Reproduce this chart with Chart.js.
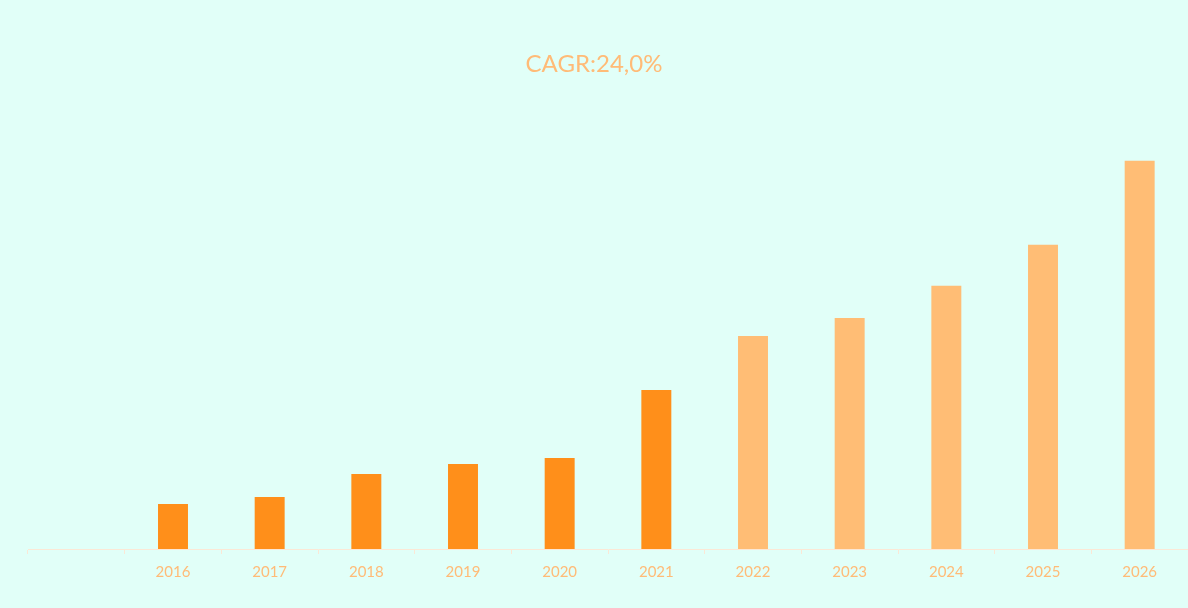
<!DOCTYPE html>
<html>
<head>
<meta charset="utf-8">
<script src="https://cdn.jsdelivr.net/npm/chart.js@4/dist/chart.umd.min.js"></script>
<style>
  html, body { margin: 0; padding: 0; background: #e1fff8; }
  #wrap { width: 1188px; height: 608px; position: relative; }
</style>
</head>
<body>
<div id="wrap"><canvas id="c" width="1188" height="608"></canvas></div>
<script>
const categories = ['', '2016', '2017', '2018', '2019', '2020', '2021', '2022', '2023', '2024', '2025', '2026'];
const historicalValues = [null, 45, 52, 75, 85, 91, 159, null, null, null, null, null];
const forecastValues = [null, null, null, null, null, null, null, 213, 231, 263, 304, 388];
const titleText = 'CAGR:24,0%';

const textColor = '#ffbb77';
const axisColor = '#fbe8d6';

new Chart(document.getElementById('c'), {
  type: 'bar',
  data: {
    labels: categories,
    datasets: [
      { label: 'Historical', data: historicalValues, backgroundColor: '#ff8f1a', barPercentage: 0.31, categoryPercentage: 1 },
      { label: 'Forecast', data: forecastValues, backgroundColor: '#ffbd75', barPercentage: 0.31, categoryPercentage: 1 }
    ]
  },
  options: {
    responsive: false,
    animation: false,
    layout: { padding: { left: 0, right: 0, top: 0, bottom: 18 } },
    plugins: {
      legend: { display: false },
      tooltip: { enabled: false },
      title: {
        display: true,
        text: titleText,
        color: textColor,
        font: { family: 'Lato, "Open Sans", sans-serif', size: 24, weight: 'normal' },
        padding: { top: 50, bottom: 70 }
      }
    },
    scales: {
      x: {
        stacked: true,
        offset: true,
        grid: { display: true, offset: true, drawOnChartArea: false, drawTicks: true, tickLength: 5, color: axisColor },
        border: { display: true, color: axisColor, width: 1 },
        ticks: { color: textColor, padding: 9, font: { family: 'Lato, "Open Sans", sans-serif', size: 15 } }
      },
      y: {
        stacked: true,
        display: true,
        min: 0,
        max: 400,
        grid: { display: false, drawTicks: false },
        border: { display: false },
        ticks: { display: false },
        afterFit: (scale) => { scale.width = 28; }
      }
    }
  }
});
</script>
</body>
</html>
